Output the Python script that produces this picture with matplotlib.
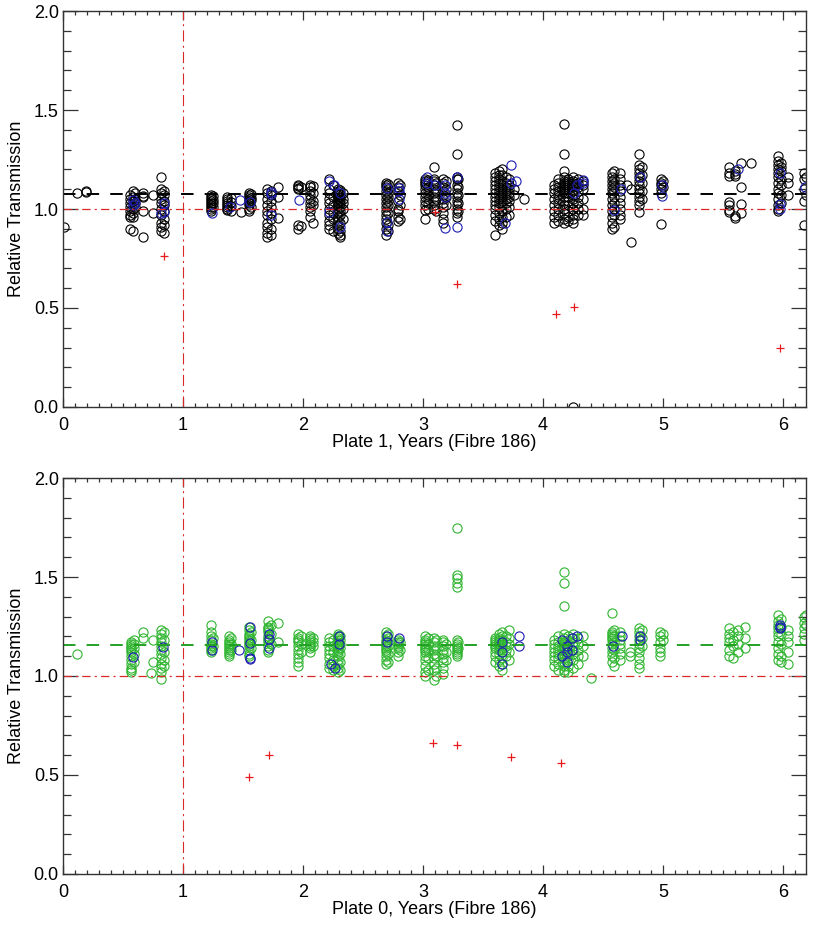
import matplotlib
matplotlib.use("Agg")
import matplotlib.pyplot as plt
from matplotlib.ticker import MultipleLocator, FormatStrFormatter

plt.rcParams['font.family'] = ['Liberation Sans', 'DejaVu Sans']
plt.rcParams['lines.scale_dashes'] = False

OUT_PNG = "out.png"

# Plate 1 (top) -- groups of (years, [relative transmission])
top_black = [
    (0.01, [0.91]),
    (0.12, [1.08]), (0.19, [1.085, 1.09]),
    (0.56, [1.07, 1.05, 1.03, 1.01, 0.99, 0.97, 0.96, 0.90]),
    (0.58, [1.09, 1.06, 1.04, 1.02, 1.00, 0.98, 0.96, 0.89]),
    (0.60, [1.08, 1.05, 1.03, 1.01]),
    (0.67, [1.08, 1.065, 1.06, 0.99, 0.86]),
    (0.75, [1.07, 0.98]),
    (0.82, [1.16, 1.10, 1.08, 1.05, 1.03, 1.00, 0.97, 0.93, 0.91, 0.89]),
    (0.84, [1.09, 1.07, 1.04, 1.02, 0.99, 0.95, 0.92, 0.88]),
    (1.23, [1.07, 1.06, 1.05, 1.04, 1.03, 1.02, 1.01, 1.00, 0.99]),
    (1.25, [1.065, 1.045, 1.03, 1.01]),
    (1.37, [1.06, 1.05, 1.04, 1.03, 1.02, 1.01, 1.00, 0.995]),
    (1.40, [1.055, 1.035, 1.015, 0.99]),
    (1.48, [0.985]),
    (1.55, [1.08, 1.07, 1.06, 1.05, 1.04, 1.03, 1.02, 1.00, 0.99]),
    (1.57, [1.075, 1.055, 1.045, 1.01]),
    (1.70, [1.10, 1.08, 1.05, 1.02, 0.99, 0.97, 0.93, 0.91, 0.88, 0.86]),
    (1.73, [1.09, 1.07, 1.04, 1.01, 0.98, 0.95, 0.90, 0.87]),
    (1.79, [1.11, 1.06, 0.955]),
    (1.96, [1.12, 1.115, 1.105, 1.10, 0.92, 0.90]),
    (1.98, [1.11, 0.915]),
    (2.06, [1.12, 1.11, 1.09, 1.07, 1.05, 1.03, 1.01, 0.99, 0.96]),
    (2.08, [1.115, 1.08, 1.04, 1.02, 0.93]),
    (2.22, [1.15, 1.10, 1.08, 1.05, 1.03, 1.00, 0.97, 0.94, 0.92, 0.90]),
    (2.25, [1.12, 1.06, 1.02, 0.98, 0.95, 0.89]),
    (2.29, [1.10, 1.09, 1.08, 1.07, 1.06, 1.05, 1.04, 1.03, 1.02, 1.00,
            0.98, 0.96, 0.94, 0.92, 0.90, 0.88]),
    (2.31, [1.095, 1.075, 1.06, 1.045, 1.03, 1.01, 0.99, 0.97, 0.93, 0.89,
            0.87, 0.86]),
    (2.33, [1.08, 1.05, 1.03, 1.00, 0.95]),
    (2.69, [1.13, 1.12, 1.11, 1.09, 1.07, 1.05, 1.03, 1.01, 0.99, 0.97,
            0.95, 0.93, 0.90, 0.87]),
    (2.71, [1.125, 1.10, 1.08, 1.06, 1.04, 1.02, 0.98, 0.92, 0.89]),
    (2.79, [1.13, 1.11, 1.09, 1.04, 1.00, 0.99, 0.96, 0.94]),
    (2.81, [1.12, 1.07, 1.02, 0.95]),
    (3.02, [1.15, 1.14, 1.13, 1.12, 1.10, 1.08, 1.06, 1.04, 1.02, 0.995, 0.95]),
    (3.04, [1.145, 1.11, 1.09, 1.07, 1.05, 1.03, 1.00]),
    (3.09, [1.21, 1.15, 1.14, 1.12, 1.10, 1.08, 1.06, 1.04, 1.02, 1.00]),
    (3.11, [1.13, 1.09, 1.05, 0.99]),
    (3.17, [1.15, 1.13, 1.11, 1.09, 1.07, 1.05, 1.03, 1.01, 0.98, 0.95, 0.93]),
    (3.19, [1.14, 1.10, 1.06, 1.02]),
    (3.28, [1.425, 1.28, 1.16, 1.15, 1.12, 1.10, 1.08, 1.06, 1.04, 1.02,
            1.00, 0.98, 0.96]),
    (3.29, [1.15, 1.11, 1.07, 1.03, 0.99]),
    (3.60, [1.18, 1.16, 1.14, 1.12, 1.10, 1.08, 1.06, 1.04, 1.02, 1.00,
            0.97, 0.94, 0.87]),
    (3.63, [1.19, 1.17, 1.15, 1.13, 1.11, 1.09, 1.07, 1.05, 1.03, 1.01,
            0.98, 0.95, 0.92]),
    (3.66, [1.20, 1.17, 1.14, 1.12, 1.10, 1.08, 1.06, 1.04, 1.02, 0.99,
            0.96, 0.93, 0.90]),
    (3.69, [1.16, 1.13, 1.11, 1.09, 1.07, 1.05, 1.03, 1.00, 0.96]),
    (3.72, [1.15, 1.12, 1.10, 1.08, 1.06, 1.04, 1.01, 0.97]),
    (3.76, [1.10, 1.07]),
    (3.84, [1.05]),
    (4.09, [1.12, 1.10, 1.08, 1.05, 1.02, 0.99, 0.96, 0.93]),
    (4.12, [1.15, 1.13, 1.11, 1.09, 1.07, 1.05, 1.03, 1.00, 0.97, 0.94]),
    (4.17, [1.43, 1.28, 1.19, 1.16, 1.14, 1.13, 1.12, 1.11, 1.10, 1.09,
            1.08, 1.06, 1.04, 1.02, 1.00, 0.98, 0.95, 0.93]),
    (4.21, [1.15, 1.14, 1.13, 1.12, 1.11, 1.10, 1.08, 1.06, 1.04, 1.02,
            0.99, 0.96, 0.94]),
    (4.25, [1.16, 1.14, 1.13, 1.12, 1.11, 1.09, 1.07, 1.05, 1.03, 1.00,
            0.97, 0.95, 0.93, 0.0]),
    (4.29, [1.15, 1.13, 1.11, 1.09, 1.06, 1.03, 1.00, 0.97]),
    (4.33, [1.14, 1.12, 1.10, 1.05, 1.00, 0.97]),
    (4.57, [1.18, 1.16, 1.14, 1.12, 1.10, 1.08, 1.05, 1.02, 0.99, 0.96,
            0.93, 0.90]),
    (4.59, [1.19, 1.15, 1.13, 1.11, 1.09, 1.06, 1.03, 1.00, 0.97, 0.91]),
    (4.64, [1.18, 1.15, 1.12, 1.09, 1.06, 1.03, 1.00, 0.97, 0.95]),
    (4.70, [1.12]),
    (4.73, [1.10, 0.835]),
    (4.80, [1.28, 1.22, 1.20, 1.18, 1.16, 1.14, 1.12, 1.10, 1.08, 1.06,
            1.04, 1.02, 0.985]),
    (4.82, [1.21, 1.17, 1.13, 1.09, 1.05]),
    (4.98, [1.15, 1.13, 1.12, 1.10, 1.08, 0.925]),
    (5.00, [1.14, 1.11]),
    (5.55, [1.21, 1.18, 1.165, 1.035, 1.02, 0.995, 0.985]),
    (5.60, [1.19, 1.175, 1.165, 0.965, 0.955]),
    (5.65, [1.23, 1.11, 1.025, 0.98]),
    (5.73, [1.23]),
    (5.96, [1.27, 1.24, 1.22, 1.20, 1.18, 1.16, 1.13, 1.10, 1.08, 1.05,
            1.02, 1.00, 0.99]),
    (5.98, [1.23, 1.21, 1.19, 1.15, 1.12, 1.07, 1.03]),
    (6.04, [1.16, 1.13, 1.07]),
    (6.17, [1.18, 1.15, 1.10, 1.04, 0.92]),
    (6.19, [1.16, 1.07]),
]
top_blue = [
    (0.58, [1.045, 1.02]), (0.60, [1.03]), (0.82, [0.98]), (0.84, [1.03, 0.985]),
    (1.24, [0.98]), (1.39, [1.01]), (1.475, [1.045]), (1.56, [1.035]),
    (1.73, [1.085, 1.075, 0.97]), (1.97, [1.045]),
    (2.22, [1.14, 0.985]), (2.26, [1.12]), (2.31, [1.08, 0.91]),
    (2.70, [1.105, 0.935, 0.89]), (2.80, [1.105, 1.09, 1.05]),
    (3.03, [1.16, 1.13]), (3.10, [1.12]), (3.18, [1.12, 1.08, 1.06, 0.905]),
    (3.28, [1.16, 0.91]), (3.68, [0.93]), (3.73, [1.22, 1.13]), (3.77, [1.14]),
    (4.26, [1.08]), (4.28, [1.12]), (4.33, [1.145, 1.13]),
    (4.59, [0.995]), (4.65, [1.10]), (4.81, [1.16]), (4.99, [1.12, 1.065]),
    (5.62, [1.20]), (5.97, [1.18, 1.025, 1.0]), (6.18, [1.11]),
]
top_red_x = [0.84, 3.10, 3.28, 4.11, 4.26, 5.97]
top_red_y = [0.765, 0.985, 0.62, 0.47, 0.505, 0.30]
top_mean = 1.075

# Plate 0 (bottom)
bot_green = [
    (0.12, [1.11]),
    (0.57, [1.17, 1.16, 1.15, 1.14, 1.13, 1.12, 1.10, 1.08, 1.06, 1.04, 1.03, 1.02]),
    (0.59, [1.18, 1.16, 1.14, 1.11, 1.07]),
    (0.67, [1.22, 1.19]), (0.73, [1.015]), (0.75, [1.18, 1.07]),
    (0.82, [1.23, 1.21, 1.19, 1.17, 1.15, 1.13, 1.11, 1.09, 1.06, 1.04, 1.02, 0.985]),
    (0.84, [1.22, 1.18, 1.12, 1.08, 1.05]),
    (1.23, [1.26, 1.22, 1.20, 1.18, 1.16, 1.15, 1.14, 1.13, 1.12]),
    (1.25, [1.19, 1.15]),
    (1.38, [1.20, 1.18, 1.17, 1.16, 1.15, 1.14, 1.13, 1.12, 1.11, 1.10]),
    (1.40, [1.19, 1.16, 1.13]),
    (1.55, [1.25, 1.23, 1.21, 1.20, 1.19, 1.18, 1.17, 1.16, 1.15, 1.13, 1.11, 1.10]),
    (1.57, [1.22, 1.18, 1.14]),
    (1.71, [1.28, 1.25, 1.24, 1.23, 1.22, 1.20, 1.19, 1.18, 1.17, 1.15, 1.13, 1.12]),
    (1.73, [1.26, 1.21, 1.16]),
    (1.79, [1.27, 1.17]),
    (1.96, [1.21, 1.19, 1.18, 1.17, 1.15, 1.13, 1.11, 1.09, 1.07, 1.05]),
    (1.98, [1.20, 1.16, 1.12]),
    (2.06, [1.20, 1.19, 1.18, 1.17, 1.16, 1.15, 1.14, 1.12]),
    (2.08, [1.19, 1.17, 1.15]),
    (2.22, [1.19, 1.17, 1.15, 1.13, 1.11, 1.09, 1.06, 1.04]),
    (2.25, [1.18, 1.15, 1.12, 1.08, 1.05, 1.03]),
    (2.29, [1.21, 1.20, 1.19, 1.18, 1.17, 1.16, 1.15, 1.14, 1.13, 1.12,
            1.10, 1.08, 1.06, 1.04, 1.02]),
    (2.31, [1.20, 1.18, 1.16, 1.14, 1.11, 1.07, 1.03]),
    (2.69, [1.22, 1.20, 1.18, 1.17, 1.16, 1.15, 1.14, 1.13, 1.12, 1.10, 1.08, 1.06]),
    (2.71, [1.21, 1.19, 1.15, 1.11, 1.07]),
    (2.79, [1.18, 1.17, 1.16, 1.15, 1.14, 1.12, 1.10]),
    (2.81, [1.17, 1.13]),
    (3.02, [1.20, 1.18, 1.17, 1.16, 1.15, 1.14, 1.13, 1.12, 1.10, 1.08, 1.05, 1.02, 1.00]),
    (3.04, [1.19, 1.16, 1.13, 1.09, 1.03]),
    (3.09, [1.19, 1.17, 1.15, 1.13, 1.11, 1.09, 1.06, 1.03, 0.98]),
    (3.11, [1.18, 1.14, 1.10, 1.04, 1.00]),
    (3.17, [1.18, 1.17, 1.15, 1.13, 1.11, 1.09, 1.07, 1.04, 1.01]),
    (3.19, [1.16, 1.12, 1.08]),
    (3.28, [1.75, 1.51, 1.495, 1.47, 1.45, 1.18, 1.16, 1.15, 1.14, 1.13,
            1.12, 1.11, 1.10]),
    (3.29, [1.17, 1.14]),
    (3.60, [1.19, 1.18, 1.17, 1.16, 1.15, 1.14, 1.12, 1.10, 1.07]),
    (3.63, [1.21, 1.19, 1.18, 1.17, 1.16, 1.15, 1.13, 1.11, 1.08, 1.05]),
    (3.66, [1.22, 1.20, 1.18, 1.16, 1.14, 1.12, 1.09, 1.06, 1.03]),
    (3.69, [1.20, 1.17, 1.15, 1.13, 1.10]),
    (3.72, [1.23, 1.19, 1.16, 1.12, 1.08]),
    (4.09, [1.18, 1.16, 1.14, 1.12, 1.10, 1.08, 1.05]),
    (4.12, [1.20, 1.17, 1.15, 1.13, 1.11, 1.09, 1.06, 1.03]),
    (4.17, [1.525, 1.47, 1.355, 1.21, 1.19, 1.17, 1.16, 1.15, 1.14, 1.13,
            1.11, 1.09, 1.07, 1.05, 1.03, 1.02]),
    (4.21, [1.20, 1.18, 1.16, 1.14, 1.12, 1.10, 1.08, 1.05, 1.02]),
    (4.25, [1.21, 1.19, 1.17, 1.15, 1.13, 1.11, 1.08, 1.04]),
    (4.29, [1.19, 1.16, 1.13, 1.10, 1.06]),
    (4.33, [1.20, 1.15, 1.10]),
    (4.40, [0.99]),
    (4.57, [1.32, 1.22, 1.21, 1.20, 1.19, 1.18, 1.16, 1.14, 1.12, 1.10, 1.07]),
    (4.59, [1.23, 1.20, 1.17, 1.13, 1.09, 1.05]),
    (4.64, [1.22, 1.20, 1.18, 1.16, 1.14, 1.11, 1.08]),
    (4.72, [1.12, 1.10]),
    (4.80, [1.24, 1.22, 1.20, 1.18, 1.16, 1.14, 1.12, 1.09, 1.06, 1.04]),
    (4.82, [1.23, 1.19, 1.15]),
    (4.97, [1.22, 1.20, 1.17, 1.14, 1.12, 1.10]),
    (5.00, [1.21, 1.18]),
    (5.55, [1.24, 1.21, 1.19, 1.17, 1.13, 1.10]),
    (5.58, [1.22, 1.18, 1.15, 1.09]),
    (5.62, [1.23, 1.20, 1.16, 1.12]),
    (5.68, [1.25, 1.19, 1.14]),
    (5.96, [1.31, 1.28, 1.26, 1.24, 1.22, 1.20, 1.17, 1.14, 1.11, 1.08]),
    (5.98, [1.29, 1.25, 1.21, 1.16, 1.10, 1.07]),
    (6.04, [1.23, 1.20, 1.17, 1.12, 1.06]),
    (6.17, [1.30, 1.27, 1.24, 1.21, 1.18]),
    (6.19, [1.31, 1.26]),
]
bot_blue = [
    (0.58, [1.095]), (0.83, [1.145]), (1.24, [1.17, 1.13]), (1.47, [1.13]),
    (1.56, [1.245, 1.165, 1.09, 1.085]), (1.72, [1.21, 1.185, 1.14]),
    (2.23, [1.06]), (2.27, [1.04]), (2.30, [1.20, 1.16]),
    (2.70, [1.20, 1.17]), (2.80, [1.19]),
    (3.66, [1.17, 1.12, 1.06]), (3.80, [1.20, 1.15]),
    (4.16, [1.18, 1.10]), (4.20, [1.15, 1.12, 1.07]), (4.24, [1.19, 1.13]), (4.28, [1.20]),
    (4.58, [1.15]), (4.66, [1.20]), (4.81, [1.20, 1.18]),
    (5.97, [1.26, 1.25, 1.24]),
]
bot_red_x = [1.55, 1.72, 3.08, 3.28, 3.73, 4.15]
bot_red_y = [0.49, 0.60, 0.66, 0.65, 0.59, 0.56]
bot_mean = 1.155

BLACK = 'black'
BLUE = '#1c1cb4'
GREEN = '#2fb52f'
RED = '#d82828'
PLUS_RED = '#e81c1c'
AXCOL = '#333333'


def flatten(groups):
    xs, ys = [], []
    for x, vals in groups:
        xs += [x] * len(vals)
        ys += vals
    return xs, ys


def draw_panel(ax, main, main_col, blue, red_x, red_y, mean, mean_col, xlabel):
    x, y = flatten(main)
    ax.plot(x, y, 'o', mfc='none', mec=main_col, ms=6.6, mew=0.8, ls='none')
    x, y = flatten(blue)
    ax.plot(x, y, 'o', mfc='none', mec=BLUE, ms=6.6, mew=0.8, ls='none')
    ax.plot(red_x, red_y, '+', color=PLUS_RED, ms=6, mew=0.9, ls='none')
    ax.axhline(mean, color=mean_col, lw=1.4, dashes=(9, 8))
    ax.axhline(1.0, color=RED, lw=0.9, dashes=(6, 3, 1.5, 3))
    ax.axvline(1.0, color=RED, lw=0.8, dashes=(8, 3, 1.5, 3))

    ax.set_xlim(0, 6.19)
    ax.set_ylim(0, 2.0)
    ax.xaxis.set_major_locator(MultipleLocator(1))
    ax.xaxis.set_minor_locator(MultipleLocator(0.1))
    ax.yaxis.set_major_locator(MultipleLocator(0.5))
    ax.yaxis.set_minor_locator(MultipleLocator(0.1))
    ax.yaxis.set_major_formatter(FormatStrFormatter('%.1f'))
    ax.tick_params(which='both', direction='in', top=True, right=True,
                   color=AXCOL, labelsize=13, width=0.9)
    ax.tick_params(axis='x', which='major', length=6.5, pad=7)
    ax.tick_params(axis='x', which='minor', length=3)
    ax.tick_params(axis='y', which='major', length=11, pad=3)
    ax.tick_params(axis='y', which='minor', length=6)
    for s in ax.spines.values():
        s.set_color(AXCOL)
        s.set_linewidth(1.0)
    ax.set_xlabel(xlabel, fontsize=13, labelpad=0)
    ax.set_ylabel('Relative Transmission', fontsize=13, labelpad=6)


fig = plt.figure(figsize=(8.17, 9.44), dpi=100)
ax1 = fig.add_axes([0.0771, 0.5689, 0.9094, 0.4194])
ax2 = fig.add_axes([0.0771, 0.0742, 0.9094, 0.4194])

draw_panel(ax1, top_black, BLACK, top_blue, top_red_x, top_red_y, top_mean, BLACK,
           'Plate 1, Years (Fibre 186)')
draw_panel(ax2, bot_green, GREEN, bot_blue, bot_red_x, bot_red_y, bot_mean, '#22a022',
           'Plate 0, Years (Fibre 186)')

fig.savefig(OUT_PNG, dpi=100)
plt.close(fig)
